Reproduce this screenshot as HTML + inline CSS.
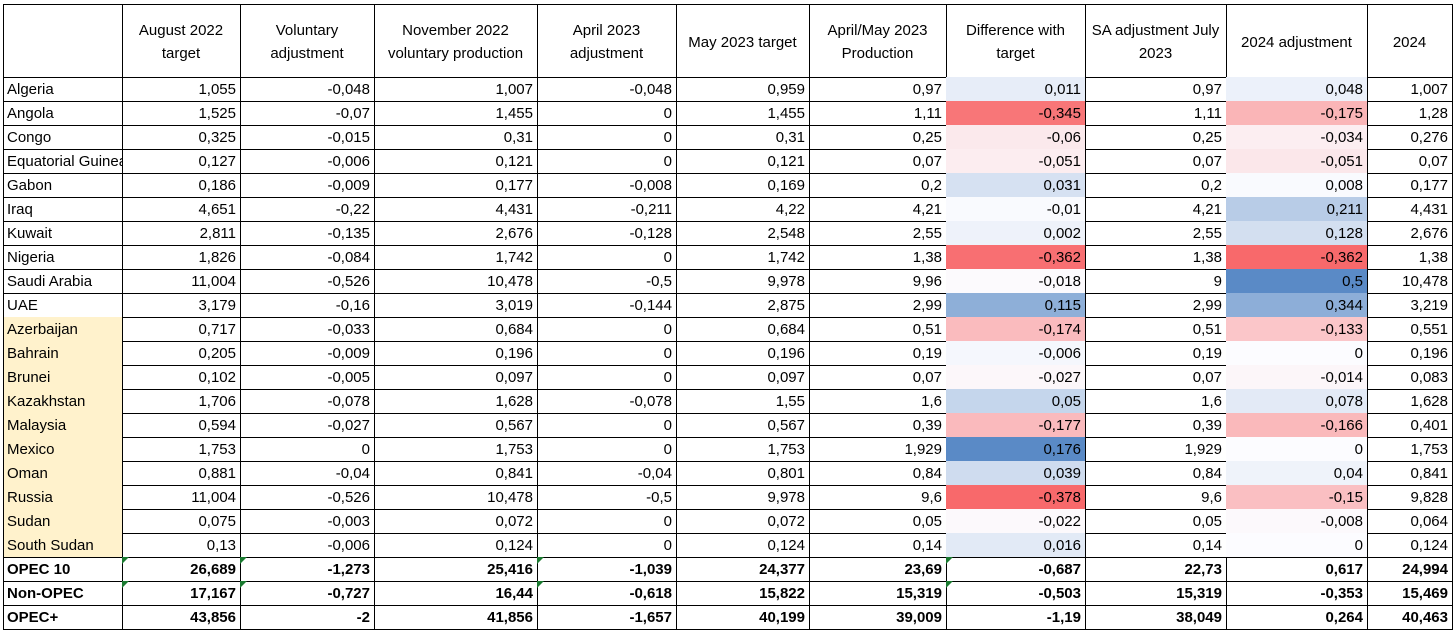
<!DOCTYPE html>
<html><head><meta charset="utf-8"><style>
body{margin:0;width:1455px;height:633px;background:#fff;overflow:hidden;font-family:"Liberation Sans",sans-serif;}
#t{position:absolute;left:0;top:0;width:1455px;height:633px;}
.c{position:absolute;box-sizing:border-box;border-right:1px solid #000;border-bottom:1px solid #000;font-size:15px;color:#000;white-space:nowrap;overflow:hidden;line-height:25px;padding:0 4px;text-align:right;}
.h{text-align:center;white-space:normal;line-height:23px;display:flex;align-items:center;justify-content:center;padding-top:2px;}
.n{text-align:left;}
.b{font-weight:bold;}
.tri{position:absolute;left:0;top:0;width:0;height:0;border-top:7px solid #1a7a30;border-right:7px solid transparent;}
</style></head><body>
<div id="t"></div>
<script>
const headers=["","August 2022 target","Voluntary adjustment","November 2022 voluntary production","April 2023 adjustment","May 2023 target","April/May 2023 Production","Difference with target","SA adjustment July 2023","2024 adjustment","2024"];
const countries=["Algeria","Angola","Congo","Equatorial Guinea","Gabon","Iraq","Kuwait","Nigeria","Saudi Arabia","UAE","Azerbaijan","Bahrain","Brunei","Kazakhstan","Malaysia","Mexico","Oman","Russia","Sudan","South Sudan","OPEC 10","Non-OPEC","OPEC+"];
const rows=[
["1,055","-0,048","1,007","-0,048","0,959","0,97","0,011","0,97","0,048","1,007"],
["1,525","-0,07","1,455","0","1,455","1,11","-0,345","1,11","-0,175","1,28"],
["0,325","-0,015","0,31","0","0,31","0,25","-0,06","0,25","-0,034","0,276"],
["0,127","-0,006","0,121","0","0,121","0,07","-0,051","0,07","-0,051","0,07"],
["0,186","-0,009","0,177","-0,008","0,169","0,2","0,031","0,2","0,008","0,177"],
["4,651","-0,22","4,431","-0,211","4,22","4,21","-0,01","4,21","0,211","4,431"],
["2,811","-0,135","2,676","-0,128","2,548","2,55","0,002","2,55","0,128","2,676"],
["1,826","-0,084","1,742","0","1,742","1,38","-0,362","1,38","-0,362","1,38"],
["11,004","-0,526","10,478","-0,5","9,978","9,96","-0,018","9","0,5","10,478"],
["3,179","-0,16","3,019","-0,144","2,875","2,99","0,115","2,99","0,344","3,219"],
["0,717","-0,033","0,684","0","0,684","0,51","-0,174","0,51","-0,133","0,551"],
["0,205","-0,009","0,196","0","0,196","0,19","-0,006","0,19","0","0,196"],
["0,102","-0,005","0,097","0","0,097","0,07","-0,027","0,07","-0,014","0,083"],
["1,706","-0,078","1,628","-0,078","1,55","1,6","0,05","1,6","0,078","1,628"],
["0,594","-0,027","0,567","0","0,567","0,39","-0,177","0,39","-0,166","0,401"],
["1,753","0","1,753","0","1,753","1,929","0,176","1,929","0","1,753"],
["0,881","-0,04","0,841","-0,04","0,801","0,84","0,039","0,84","0,04","0,841"],
["11,004","-0,526","10,478","-0,5","9,978","9,6","-0,378","9,6","-0,15","9,828"],
["0,075","-0,003","0,072","0","0,072","0,05","-0,022","0,05","-0,008","0,064"],
["0,13","-0,006","0,124","0","0,124","0,14","0,016","0,14","0","0,124"],
["26,689","-1,273","25,416","-1,039","24,377","23,69","-0,687","22,73","0,617","24,994"],
["17,167","-0,727","16,44","-0,618","15,822","15,319","-0,503","15,319","-0,353","15,469"],
["43,856","-2","41,856","-1,657","40,199","39,009","-1,19","38,049","0,264","40,463"]];
const edges=[3,122,240,374,537,676,809,946,1085,1226,1367,1452];
const top0=4,hdrH=73,rowH=24;
const t=document.getElementById('t');
function num(s){return parseFloat(s.replace(',','.'));}
function mix(a,b,f){return 'rgb('+a.map((v,i)=>Math.round(v+(b[i]-v)*f)).join(',')+')';}
const RED=[248,105,107],WHITE=[252,252,255],BLUE=[90,138,198];
function scale(col){
  const v=rows.slice(0,20).map(r=>num(r[col]));
  const s=[...v].sort((a,b)=>a-b);const mid=(s[9]+s[10])/2;const mn=s[0],mx=s[s.length-1];
  return x=>x<mid?mix(WHITE,RED,(mid-x)/(mid-mn)):mix(WHITE,BLUE,(x-mid)/(mx-mid));
}
const sc={6:scale(6),8:scale(8)};
for(let c=0;c<11;c++){
  const d=document.createElement('div');d.className='c h';
  
  
  d.style.left=edges[c]+'px';d.style.top=top0+'px';d.style.width=(edges[c+1]-edges[c]+1)+'px';d.style.height=(hdrH+1)+'px';
  d.style.borderTop='1px solid #000';if(c==0)d.style.borderLeft='1px solid #000';
  d.textContent=headers[c];t.appendChild(d);
}
for(let r=0;r<23;r++){
  const y=top0+hdrH+r*rowH;const bold=r>=20;
  for(let c=0;c<11;c++){
    const d=document.createElement('div');d.className='c'+(c==0?' n':'')+(bold?' b':'');
    
    
    d.style.left=edges[c]+'px';d.style.top=y+'px';d.style.width=(edges[c+1]-edges[c]+1)+'px';d.style.height=(rowH+1)+'px';
    if(c==0){d.style.borderLeft='1px solid #000';d.textContent=countries[r];if(r>=10&&r<20)d.style.background='#fff2cc';d.style.paddingLeft='3px';d.style.textOverflow='clip';}
    else{const val=rows[r][c-1];d.textContent=val;if(r<20&&(c==7||c==9))d.style.background=sc[c-1](num(val));}
    if((r==20||r==21)&&[1,2,4,7].includes(c)){const tr=document.createElement('div');tr.className='tri';d.appendChild(tr);}
    t.appendChild(d);
  }
}
</script>
</body></html>
